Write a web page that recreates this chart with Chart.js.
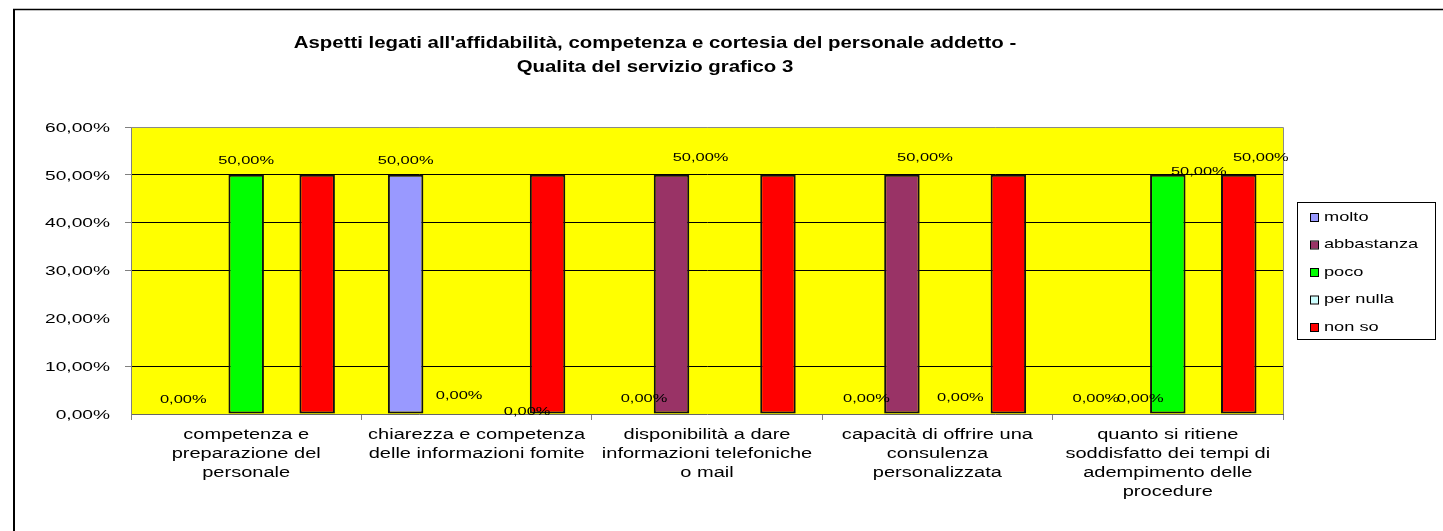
<!DOCTYPE html>
<html>
<head>
<meta charset="utf-8">
<script src="https://cdn.jsdelivr.net/npm/chart.js@4.4.1/dist/chart.umd.min.js"></script>
<style>
  html, body { margin: 0; padding: 0; background: #fff; overflow: hidden; }
  #wrap { position: relative; width: 1443px; height: 531px; }
</style>
</head>
<body>
<div id="wrap"><canvas id="chart"></canvas></div>
<script>
// ── Data ────────────────────────────────────────────────
const TITLE_LINES = [
  "Aspetti legati all'affidabilità, competenza e cortesia del personale addetto -",
  'Qualita del servizio grafico 3',
];
const CATEGORIES = [
  ['competenza e', 'preparazione del', 'personale'],
  ['chiarezza e competenza', 'delle informazioni fomite'],
  ['disponibilità a dare', 'informazioni telefoniche', 'o mail'],
  ['capacità di offrire una', 'consulenza', 'personalizzata'],
  ['quanto si ritiene', 'soddisfatto dei tempi di', 'adempimento delle', 'procedure'],
];
const SERIES_NAMES  = ['molto', 'abbastanza', 'poco', 'per nulla', 'non so'];
const MOLTO         = [0, 50, 0, 0, 0];
const ABBASTANZA    = [null, 0, 50, 50, 0];
const POCO          = [50, null, null, 0, 50];
const PER_NULLA     = [null, 0, null, null, null];
const NON_SO        = [50, 50, 50, 50, 50];
const Y_TICK_VALUES = [0, 10, 20, 30, 40, 50, 60];
const Y_TICK_LABELS = ['0,00%', '10,00%', '20,00%', '30,00%', '40,00%', '50,00%', '60,00%'];

const SERIES_COLORS = ['#9999FF', '#993366', '#00FF00', '#CCFFFF', '#FF0000'];
const FONT = '"Liberation Sans", Arial, sans-serif';

// which values carry a data label, and how far Excel nudged it: [series, category, dx, dy]
const VALUE_LABELS = [
  [0, 0, 8, 0],  [2, 0, 0, 0],
  [0, 1, 0, 0],  [1, 1, 18, -4], [3, 1, 15, 12],
  [0, 2, 8, -1], [1, 2, 29, -3],
  [0, 3, 0, -1], [1, 3, 23, -3], [2, 3, 23, -2],
  [0, 4, -1, -1], [1, 4, 8, -1], [2, 4, 31, 11], [4, 4, 22, -3],
];

const fmtPct = v => v.toFixed(2).replace('.', ',') + '%';

// Excel's text is wider than plain Arial — draw it stretched horizontally
function wideText(ctx, text, x, y, size, sx, align, weight) {
  ctx.save();
  ctx.font = (weight || 'normal') + ' ' + size + 'px ' + FONT;
  ctx.textAlign = align;
  ctx.textBaseline = 'middle';
  ctx.fillStyle = '#000';
  ctx.translate(x, y);
  ctx.scale(sx, 1);
  ctx.fillText(text, 0, 0);
  ctx.restore();
}

const excelPlugin = {
  id: 'excelLook',
  beforeDraw(chart) {
    const { ctx, chartArea: a } = chart;
    ctx.save();
    ctx.fillStyle = '#FFFF00';
    ctx.fillRect(a.left, a.top, a.right - a.left, a.bottom - a.top);
    // outer frame (only left & top edges are inside the picture)
    ctx.strokeStyle = '#000';
    ctx.lineWidth = 2;
    ctx.beginPath(); ctx.moveTo(14, 9); ctx.lineTo(14, chart.height); ctx.stroke();
    ctx.lineWidth = 1.5;
    ctx.beginPath(); ctx.moveTo(13, 9.5); ctx.lineTo(chart.width, 9.5); ctx.stroke();
    ctx.restore();
  },
  afterDraw(chart) {
    const { ctx, chartArea: a, scales } = chart;
    // plot border top/right
    ctx.save();
    ctx.strokeStyle = '#8a8a8a';
    ctx.lineWidth = 1;
    ctx.beginPath();
    ctx.moveTo(a.left, a.top + 0.5); ctx.lineTo(a.right + 0.5, a.top + 0.5); ctx.lineTo(a.right + 0.5, a.bottom);
    ctx.stroke();
    ctx.restore();

    // title
    wideText(ctx, TITLE_LINES[0], 655, 43, 17, 1.2, 'center', 'bold');
    wideText(ctx, TITLE_LINES[1], 655, 67, 17, 1.2, 'center', 'bold');

    // y tick labels
    Y_TICK_VALUES.forEach((v, i) => {
      wideText(ctx, Y_TICK_LABELS[i], 110, scales.y.getPixelForValue(v) + 1, 13.5, 1.42, 'right');
    });

    // category labels
    CATEGORIES.forEach((lines, i) => {
      const x = scales.x.getPixelForValue(i);
      lines.forEach((ln, k) => wideText(ctx, ln, x, 435 + k * 19, 14, 1.43, 'center'));
    });

    // value labels
    VALUE_LABELS.forEach(([ds, i, dx, dy]) => {
      const el = chart.getDatasetMeta(ds).data[i];
      const v = chart.data.datasets[ds].data[i];
      wideText(ctx, fmtPct(v), el.x + dx, el.y - 14 + dy, 11.5, 1.43, 'center');
    });

    // legend
    ctx.save();
    ctx.strokeStyle = '#000';
    ctx.lineWidth = 1;
    ctx.strokeRect(1297.5, 202.5, 138, 137);
    chart.data.datasets.forEach((d, i) => {
      const cy = 217 + i * 27.5;
      ctx.fillStyle = d.backgroundColor;
      ctx.fillRect(1311, cy - 3, 7, 7);
      ctx.strokeRect(1310.5, cy - 3.5, 8, 8);
      wideText(ctx, d.label, 1324, cy, 13, 1.4, 'left');
    });
    ctx.restore();
  },
};

const gridShown = v => [10, 30, 40, 50].includes(v);
const tickShown = v => [10, 30, 40, 50, 60].includes(v);

const seriesData = [MOLTO, ABBASTANZA, POCO, PER_NULLA, NON_SO];

new Chart(document.getElementById('chart'), {
  type: 'bar',
  data: {
    labels: CATEGORIES.map(c => c.join(' ')),
    datasets: SERIES_NAMES.map((name, i) => ({
      label: name,
      data: seriesData[i],
      backgroundColor: SERIES_COLORS[i],
      borderColor: '#111',
      borderWidth: c => (c.raw ? 2 : 0),
      borderSkipped: false,
      barPercentage: 1,
      categoryPercentage: 0.77,
    })),
  },
  options: {
    responsive: true, maintainAspectRatio: false, animation: false,
    layout: { padding: { left: 0, right: 160, top: 127, bottom: 0 } },
    plugins: { legend: { display: false }, title: { display: false }, tooltip: { enabled: false } },
    scales: {
      x: {
        ticks: { display: false },
        grid: { display: true, drawOnChartArea: false, drawTicks: true, tickLength: 6, color: '#808080', tickColor: '#808080' },
        border: { display: true, color: '#666', width: 1 },
        afterFit: s => { s.height = 117; },
      },
      y: {
        min: 0, max: 60,
        ticks: { display: false, stepSize: 10 },
        grid: {
          color: c => (gridShown(c.tick.value) ? '#000' : 'rgba(0,0,0,0)'),
          tickColor: c => (tickShown(c.tick.value) ? '#808080' : 'rgba(0,0,0,0)'),
          tickLength: 6, lineWidth: 1,
        },
        border: { display: true, color: '#808080', width: 1 },
        afterFit: s => { s.width = 131; },
      },
    },
  },
  plugins: [excelPlugin],
});
</script>
</body>
</html>
